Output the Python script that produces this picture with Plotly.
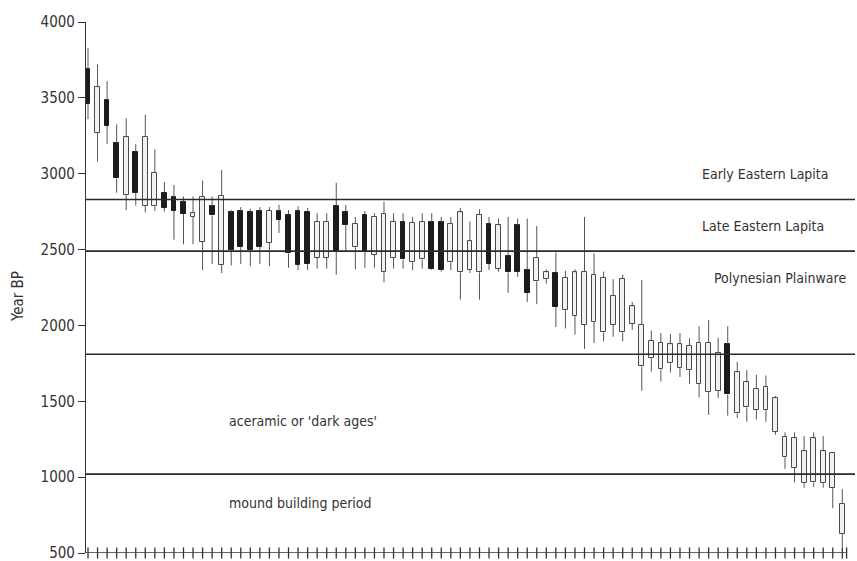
import plotly.graph_objects as go

# Radiocarbon date ranges (years BP) for each dated sample, oldest first.
# high/low = full range (whiskers); top/bottom = central range (box);
# dark = filled box.
high = [3830, 3720, 3610, 3325, 3365, 3195, 3390, 3160, 2945, 2925,
        2850, 2850, 2955, 2850, 3025, 2760, 2780, 2770, 2780, 2780,
        2795, 2760, 2785, 2775, 2740, 2740, 2940, 2795, 2715, 2755,
        2740, 2815, 2740, 2740, 2715, 2740, 2740, 2715, 2715, 2775,
        2685, 2765, 2715, 2705, 2715, 2705, 2705, 2655, 2370, 2480,
        2360, 2370, 2715, 2475, 2355, 2305, 2335, 2155, 2300, 1965,
        1950, 1945, 1950, 1915, 1995, 2035, 1920, 1995, 1760, 1705,
        1675, 1670, 1535, 1295, 1295, 1270, 1295, 1270, 1165, 920]
top = [3690, 3570, 3485, 3200, 3240, 3145, 3245, 3005, 2875, 2845,
       2815, 2740, 2845, 2785, 2855, 2745, 2755, 2745, 2755, 2755,
       2755, 2730, 2755, 2750, 2685, 2685, 2785, 2750, 2670, 2730,
       2715, 2735, 2685, 2685, 2675, 2680, 2680, 2680, 2670, 2745,
       2555, 2730, 2670, 2660, 2455, 2660, 2365, 2445, 2350, 2345,
       2315, 2350, 2355, 2335, 2315, 2195, 2305, 2125, 2005, 1900,
       1885, 1875, 1875, 1865, 1885, 1885, 1820, 1875, 1690, 1625,
       1580, 1595, 1520, 1265, 1255, 1170, 1255, 1170, 1158, 825]
bottom = [3460, 3270, 3315, 2970, 2860, 2875, 2790, 2785, 2775, 2755,
          2735, 2715, 2550, 2725, 2400, 2500, 2520, 2500, 2520, 2545,
          2695, 2475, 2400, 2405, 2445, 2445, 2490, 2665, 2515, 2490,
          2465, 2350, 2445, 2435, 2415, 2435, 2375, 2365, 2415, 2350,
          2365, 2350, 2405, 2375, 2350, 2355, 2215, 2290, 2305, 2120,
          2100, 2065, 2005, 2025, 1955, 2005, 1955, 2010, 1730, 1785,
          1710, 1750, 1720, 1705, 1615, 1560, 1570, 1545, 1420, 1460,
          1445, 1445, 1300, 1130, 1060, 960, 965, 960, 930, 625]
low = [3360, 3080, 3195, 2875, 2760, 2790, 2745, 2755, 2750, 2565,
       2535, 2535, 2365, 2405, 2345, 2395, 2405, 2390, 2405, 2390,
       2610, 2380, 2365, 2365, 2375, 2375, 2335, 2485, 2370, 2380,
       2380, 2285, 2375, 2375, 2365, 2375, 2365, 2355, 2365, 2170,
       2345, 2170, 2365, 2355, 2215, 2320, 2155, 2140, 2275, 1990,
       1980, 1940, 1845, 1885, 1895, 1925, 1895, 1970, 1570, 1695,
       1630, 1690, 1660, 1615, 1525, 1410, 1520, 1405, 1390, 1365,
       1380, 1365, 1280, 1055, 965, 930, 935, 930, 795, 535]
dark = [1, 0, 1, 1, 0, 1, 0, 0, 1, 1,
        1, 0, 0, 1, 0, 1, 1, 1, 1, 0,
        1, 1, 1, 1, 0, 0, 1, 1, 0, 1,
        0, 0, 0, 1, 0, 0, 1, 1, 0, 0,
        0, 0, 1, 0, 1, 1, 1, 0, 0, 1,
        0, 0, 0, 0, 0, 0, 0, 0, 0, 0,
        0, 0, 0, 0, 0, 0, 0, 1, 0, 0,
        0, 0, 0, 0, 0, 0, 0, 0, 0, 0]

# Ceramic period boundaries (years BP) and their labels
boundaries = [2830, 2490, 1810, 1020]
period_labels = ["Early Eastern Lapita", "Late Eastern Lapita",
                 "Polynesian Plainware", "aceramic or 'dark ages'",
                 "mound building period"]
period_label_y = [3000, 2655, 2310, 1370, 830]
period_label_x = [64.1, 64.1, 65.4, 14.6, 14.6]

y_ticks = [500, 1000, 1500, 2000, 2500, 3000, 3500, 4000]

n = len(high)
xs = list(range(n))

FONT = "Liberation Sans Narrow, DejaVu Sans Condensed, Arial Narrow, sans-serif"
INK = "#333333"

fig = go.Figure()

# Whiskers: upper and lower segments so they don't cross the boxes
wx, wy = [], []
for i in xs:
    wx += [i, i, None, i, i, None]
    wy += [high[i], top[i], None, bottom[i], low[i], None]
fig.add_trace(go.Scatter(x=wx, y=wy, mode="lines",
                         line=dict(color="#555555", width=1),
                         hoverinfo="skip", showlegend=False))

# Boxes
fills = ["#1c1c1c" if d else "#f2f2f2" for d in dark]
edges = ["#1c1c1c" if d else "#4a4a4a" for d in dark]
fig.add_trace(go.Bar(x=xs, base=bottom,
                     y=[t - b for t, b in zip(top, bottom)],
                     width=0.5,
                     marker=dict(color=fills, line=dict(color=edges, width=1)),
                     showlegend=False))

# Tick marks across the horizontal axis, one per sample
fig.add_trace(go.Scatter(x=xs + [n - 0.55], y=[y_ticks[0]] * (n + 1),
                         mode="markers",
                         marker=dict(symbol="line-ns-open", size=8, color=INK,
                                     line=dict(color=INK, width=1.3)),
                         hoverinfo="skip", showlegend=False, cliponaxis=False))

shapes = []
for b in boundaries:
    shapes.append(dict(type="line", xref="paper", x0=0, x1=1, yref="y",
                       y0=b, y1=b, line=dict(color="#2a2a2a", width=1.6)))
shapes.append(dict(type="line", xref="x", x0=-0.21, x1=n - 0.55, yref="y",
                   y0=y_ticks[0], y1=y_ticks[0],
                   line=dict(color=INK, width=1.5)))

annotations = []
for txt, lx, ly in zip(period_labels, period_label_x, period_label_y):
    annotations.append(dict(x=lx, y=ly, xref="x", yref="y", text=txt,
                            showarrow=False, xanchor="left", yanchor="middle",
                            font=dict(family=FONT, size=14, color=INK)))
annotations.append(dict(x=-0.0884, y=0.482, xref="paper", yref="paper",
                        text="Year BP", textangle=-90, showarrow=False,
                        xanchor="center", yanchor="middle",
                        font=dict(family=FONT, size=15, color=INK)))

fig.update_layout(
    width=857, height=561,
    margin=dict(l=86, r=2, t=22, b=8, autoexpand=False),
    paper_bgcolor="white", plot_bgcolor="white",
    bargap=0,
    shapes=shapes, annotations=annotations,
    font=dict(family=FONT, size=14, color=INK),
    xaxis=dict(range=[-0.21, 80.33], showgrid=False, zeroline=False,
               showline=False, showticklabels=False, ticks="",
               automargin=False),
    yaxis=dict(range=[500, 4000], tickvals=y_ticks, showgrid=False,
               zeroline=False, showline=True, linecolor=INK, linewidth=1.2,
               ticks="outside", ticklen=7, tickcolor=INK, tickwidth=1,
               ticklabeloverflow="allow", automargin=False,
               tickfont=dict(family=FONT, size=15, color=INK)),
)

fig.write_html("out.html")
